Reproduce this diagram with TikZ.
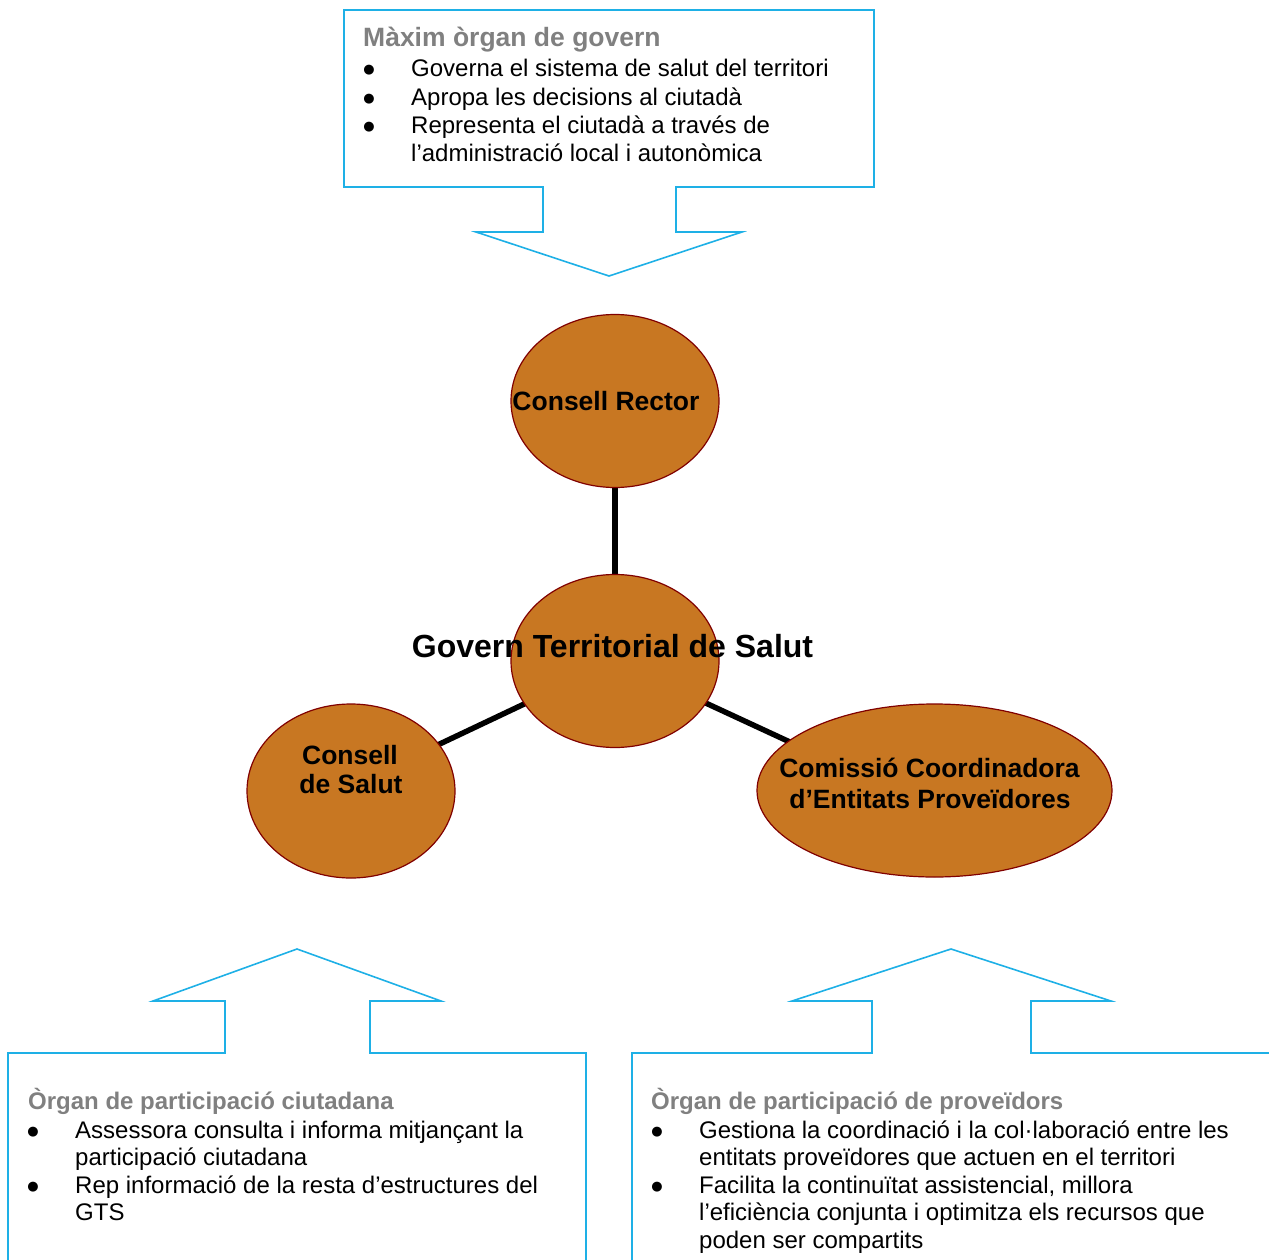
\documentclass[tikz,border=0pt]{standalone}
\usepackage{fontspec}
\setmainfont{Liberation Sans}
\newfontfamily\symfont{DejaVu Sans}
\usetikzlibrary{shapes.geometric,backgrounds}
\definecolor{ochre}{RGB}{200,119,34}
\definecolor{rim}{RGB}{128,0,0}
\definecolor{sky}{RGB}{30,176,230}
\definecolor{hdgray}{RGB}{128,128,128}
\begin{document}
\begin{tikzpicture}[x=1pt,y=-1pt,
  bubble/.style={ellipse,fill=ochre,draw=rim,line width=1.2pt,inner sep=0pt},
  link/.style={line width=5.5pt,black},
  callout/.style={draw=sky,line width=1.6pt,line join=miter},
  body/.style={anchor=base west,inner sep=0pt,font=\fontsize{24}{28}\selectfont},
  head/.style={anchor=base west,inner sep=0pt,text=hdgray,font=\fontsize{24}{28}\selectfont\bfseries},
  dot/.style={anchor=base,inner sep=0pt,font=\symfont\fontsize{13}{15}\selectfont},
  btitle/.style={anchor=base,inner sep=0pt,font=\fontsize{26.5}{30}\selectfont\bfseries}]
\useasboundingbox (0,0) rectangle (1269,1260);
\clip (0,0) rectangle (1269,1260);

% callout shapes
\draw[callout] (344,10) -- (874,10) -- (874,187) -- (676,187) -- (676,232) -- (742,232)
  -- (609,276) -- (476,232) -- (543,232) -- (543,187) -- (344,187) -- cycle;
\draw[callout] (8,1266) -- (8,1053) -- (225,1053) -- (225,1001) -- (153,1001) -- (297,949)
  -- (441,1001) -- (370,1001) -- (370,1053) -- (586,1053) -- (586,1266);
\draw[callout] (632,1266) -- (632,1053) -- (872,1053) -- (872,1001) -- (792,1001) -- (951,949)
  -- (1111,1001) -- (1031,1001) -- (1031,1053) -- (1275,1053);

% top callout text
\node[head,font=\fontsize{26.5}{30}\selectfont\bfseries] (th) at (363,47) {Màxim òrgan de govern};
\node[dot] (tb1) at (369,74) {●};
\node[body] (t1) at (411,77) {Governa el sistema de salut del territori};
\node[dot] (tb2) at (369,103) {●};
\node[body] (t2) at (411,106) {Apropa les decisions al ciutadà};
\node[dot] (tb3) at (369,131) {●};
\node[body] (t3) at (411,134) {Representa el ciutadà a través de};
\node[body] (t4) at (411,162) {l’administració local i autonòmica};

% bottom-left callout text
\node[head] (lh) at (28,1109) {Òrgan de participació ciutadana};
\node[dot] (lb1) at (33,1135) {●};
\node[body] (l1) at (75,1138) {Assessora consulta i informa mitjançant la};
\node[body] (l2) at (75,1165) {participació ciutadana};
\node[dot] (lb2) at (33,1190) {●};
\node[body] (l3) at (75,1193) {Rep informació de la resta d’estructures del};
\node[body] (l4) at (75,1220) {GTS};

% bottom-right callout text
\node[head] (rh) at (651,1109) {Òrgan de participació de proveïdors};
\node[dot] (rb1) at (657,1135) {●};
\node[body] (r1) at (699,1138) {Gestiona la coordinació i la col·laboració entre les};
\node[body] (r2) at (699,1165) {entitats proveïdores que actuen en el territori};
\node[dot] (rb2) at (657,1190) {●};
\node[body] (r3) at (699,1193) {Facilita la continuïtat assistencial, millora};
\node[body] (r4) at (699,1220) {l’eficiència conjunta i optimitza els recursos que};
\node[body] (r5) at (699,1248) {poden ser compartits};

% bubbles
\node[bubble,minimum width=208pt,minimum height=173pt] (rector) at (615,401) {};
\node[bubble,minimum width=208pt,minimum height=173pt] (govern) at (615,661) {};
\node[bubble,minimum width=208pt,minimum height=174pt] (salut) at (351,791) {};
\node[bubble,minimum width=355pt,minimum height=173pt] (comissio) at (934.5,790.5) {};
\coordinate (salutend) at (351,786);
\coordinate (comend) at (934.5,809);

\begin{pgfonlayer}{background}
\draw[link] (rector.center) -- (govern.center);
\draw[link] (govern.center) -- (salutend);
\draw[link] (govern.center) -- (comend);
\end{pgfonlayer}

% bubble texts
\node[btitle] (rectortxt) at (606,410) {Consell Rector};
\node[btitle,font=\fontsize{32}{36}\selectfont\bfseries] (governtxt) at (612.5,657) {Govern Territorial de Salut};
\node[btitle] (salut1) at (350,764) {Consell};
\node[btitle] (salut2) at (351,793) {de Salut};
\node[btitle] (com1) at (929.5,777) {Comissió Coordinadora};
\node[btitle] (com2) at (930,808) {d’Entitats Proveïdores};
\end{tikzpicture}
\end{document}
